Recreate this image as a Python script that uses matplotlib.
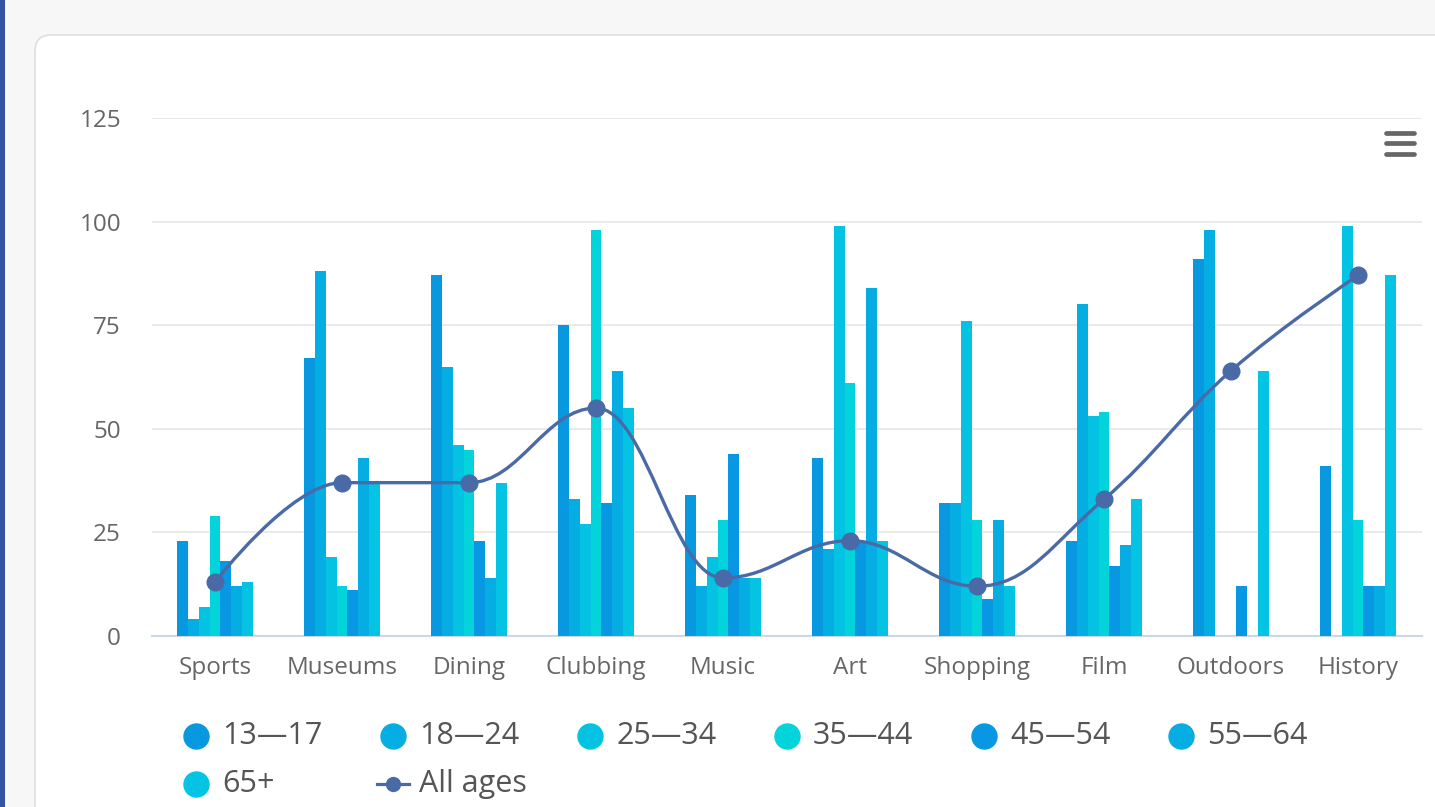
import matplotlib
matplotlib.use("Agg")
import matplotlib.pyplot as plt
from matplotlib.path import Path
from matplotlib.patches import PathPatch, FancyBboxPatch, Rectangle
from matplotlib.lines import Line2D
from matplotlib.transforms import IdentityTransform
import numpy as np

plt.rcParams['font.family'] = ['Open Sans', 'DejaVu Sans']

# Data
categories = ['Sports', 'Museums', 'Dining', 'Clubbing', 'Music',
              'Art', 'Shopping', 'Film', 'Outdoors', 'History']
age_groups = ['13—17', '18—24', '25—34', '35—44', '45—54', '55—64', '65+']
age_13_17 = [23, 67, 87, 75, 34, 43, 32, 23, 91, 41]
age_18_24 = [4, 88, 65, 33, 12, 21, 32, 80, 98, 0]
age_25_34 = [7, 19, 46, 27, 19, 99, 76, 53, 0, 99]
age_35_44 = [29, 12, 45, 98, 28, 61, 28, 54, 0, 28]
age_45_54 = [18, 11, 23, 32, 44, 23, 9, 17, 12, 12]
age_55_64 = [12, 43, 14, 64, 14, 84, 28, 22, 0, 12]
age_65_up = [13, 37, 37, 55, 14, 23, 12, 33, 64, 87]
all_ages = [13, 37, 37, 55, 14, 23, 12, 33, 64, 87]
y_ticks = [0, 25, 50, 75, 100, 125]

series = [age_13_17, age_18_24, age_25_34, age_35_44, age_45_54, age_55_64, age_65_up]
colors = ['#0798e0', '#05aee2', '#04c3e2', '#03d4dc', '#0797e3', '#05ade3', '#05c4e3']
line_color = '#4a6aa7'

W, H = 1435, 807
fig = plt.figure(figsize=(W / 100, H / 100), dpi=100)
fig.patch.set_facecolor('#f7f7f7')


def fx(px):
    return px / W


def fy(py):
    return 1 - py / H


# page chrome: white card, left stripe, menu icon (display pixel coords)
card = FancyBboxPatch((35, -40), W + 40, H - 35 + 40,
                      boxstyle="round,pad=0,rounding_size=16",
                      facecolor='white', edgecolor='#dedede', linewidth=1.2,
                      transform=IdentityTransform(), zorder=-5)
fig.patches.append(card)
fig.patches.append(Rectangle((0, 0), 5, H, facecolor='#3552a3', edgecolor='none',
                             transform=IdentityTransform(), zorder=-4))
for yy in [132.5, 143, 153.5]:
    fig.add_artist(Line2D([1386, 1414], [H - yy, H - yy], color='#666666', lw=3.4,
                          solid_capstyle='round', transform=IdentityTransform(), zorder=5))

# plot area
ax = fig.add_axes([fx(151.5), fy(636), 1270 / W, 518 / H])
ax.set_facecolor('none')

x = np.arange(len(categories))
group_w = 0.6
bar_w = group_w / len(series)
for j, (vals, c) in enumerate(zip(series, colors)):
    ax.bar(x - group_w / 2 + bar_w * (j + 0.5), vals, width=bar_w, color=c,
           linewidth=0, zorder=2)


# Highcharts-style spline
def spline_path(xs, ys, smoothing=1.5):
    denom = smoothing + 1
    n = len(xs)
    right = [None] * n
    verts = [(xs[0], ys[0])]
    codes = [Path.MOVETO]
    for i in range(1, n):
        px_, py_ = xs[i], ys[i]
        lcx, lcy = px_, py_
        if i < n - 1:
            lx, ly = xs[i - 1], ys[i - 1]
            nx, ny = xs[i + 1], ys[i + 1]
            lcx = (smoothing * px_ + lx) / denom
            lcy = (smoothing * py_ + ly) / denom
            rcx = (smoothing * px_ + nx) / denom
            rcy = (smoothing * py_ + ny) / denom
            corr = (rcy - lcy) * (rcx - px_) / (rcx - lcx) + py_ - rcy
            lcy += corr
            rcy += corr
            if lcy > ly and lcy > py_:
                lcy = max(ly, py_)
                rcy = 2 * py_ - lcy
            elif lcy < ly and lcy < py_:
                lcy = min(ly, py_)
                rcy = 2 * py_ - lcy
            if rcy > ny and rcy > py_:
                rcy = max(ny, py_)
                lcy = 2 * py_ - rcy
            elif rcy < ny and rcy < py_:
                rcy = min(ny, py_)
                lcy = 2 * py_ - rcy
            right[i] = (rcx, rcy)
        prev_r = right[i - 1] if right[i - 1] else (xs[i - 1], ys[i - 1])
        verts += [prev_r, (lcx, lcy), (px_, py_)]
        codes += [Path.CURVE4] * 3
    return Path(verts, codes)


ax.add_patch(PathPatch(spline_path(list(x.astype(float)), all_ages), facecolor='none',
                       edgecolor=line_color, lw=2.4, zorder=3, capstyle='round'))
ax.plot(x, all_ages, 'o', color=line_color, markersize=12, zorder=4)

ax.set_xlim(-0.5, len(categories) - 0.5)
ax.set_ylim(0, 125)
ax.set_yticks(y_ticks)
ax.set_xticks(x)
ax.set_xticklabels(categories)
ax.yaxis.grid(True, color='#e6e6e6', lw=1.2)
ax.set_axisbelow(True)
for s in ['top', 'right', 'left']:
    ax.spines[s].set_visible(False)
ax.spines['bottom'].set_color('#ccd6eb')
ax.spines['bottom'].set_linewidth(1.5)
ax.spines['bottom'].set_zorder(1)
ax.tick_params(axis='y', length=0, pad=22, labelsize=17.5, labelcolor='#666666')
ax.tick_params(axis='x', length=0, pad=14.5, labelsize=17.5, labelcolor='#666666')

# legend, laid out like the Highcharts one
pitch = 197
row_y = [736, 784]
for k, (name, c) in enumerate(zip(age_groups, colors)):
    cx = 196 + pitch * (k % 6)
    cy = row_y[k // 6]
    fig.add_artist(Line2D([cx], [H - cy], marker='o', markersize=18, color=c,
                          linestyle='none', transform=IdentityTransform()))
    fig.text(fx(cx + 26), fy(cy), name, fontsize=22, color='#555555', va='center')
cx = 196 + pitch
cy = row_y[1]
fig.add_artist(Line2D([cx - 16, cx + 16], [H - cy, H - cy], color=line_color, lw=2.3,
                      transform=IdentityTransform()))
fig.add_artist(Line2D([cx], [H - cy], marker='o', markersize=10, color=line_color,
                      linestyle='none', transform=IdentityTransform()))
fig.text(fx(cx + 26), fy(cy), 'All ages', fontsize=22, color='#555555', va='center')

fig.savefig('out.png', dpi=100, facecolor=fig.get_facecolor())
